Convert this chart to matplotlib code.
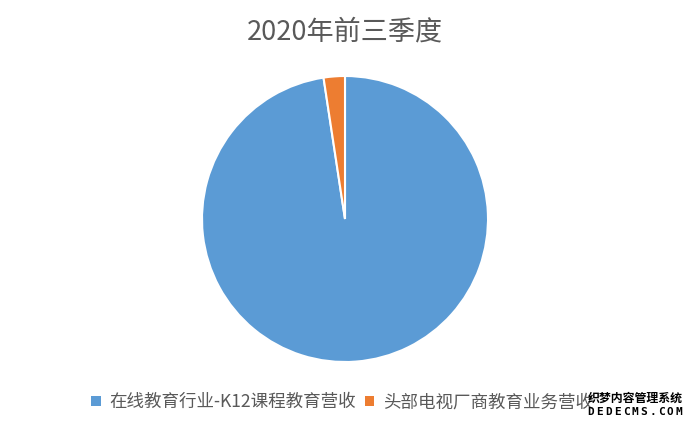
import matplotlib.pyplot as plt
from matplotlib.patches import Patch, Rectangle

plt.rcParams['font.family'] = ['Noto Sans CJK SC', 'DejaVu Sans']

title = '2020年前三季度'
labels = ['在线教育行业-K12课程教育营收', '头部电视厂商教育业务营收']
values = [97.6, 2.4]
colors = ['#5b9bd5', '#ed7d31']

W, H = 695, 426
fig = plt.figure(figsize=(W / 100, H / 100), dpi=100)
# pie centre ~ (345, 219) px, radius ~143 px
ax = fig.add_axes([(345 - 143) / W, (H - 362) / H, 286 / W, 286 / H])
ax.pie(values, colors=colors, startangle=90, counterclock=False,
       wedgeprops=dict(edgecolor='white', linewidth=1.5))
ax.set_xlim(-1, 1)
ax.set_ylim(-1, 1)
ax.set_aspect('equal')
ax.axis('off')

fig.text(0.497, 0.924, title, ha='center', va='center', fontsize=19.5, color='#595959')

handles = [Patch(facecolor=c, edgecolor='none') for c in colors]
fig.legend(handles, labels, loc='center', bbox_to_anchor=(0.492, 0.056), ncol=2,
           frameon=False, fontsize=12.6, labelcolor='#595959',
           handlelength=0.55, handleheight=0.55, handletextpad=0.5, columnspacing=0.5)

# watermark over the legend's right end
fig.patches.append(Rectangle((586 / W, 1 - 419 / H), 102 / W, 28 / H,
                             transform=fig.transFigure, facecolor='white',
                             edgecolor='none', zorder=5))
fig.text(635 / W, 1 - 398 / H, '织梦内容管理系统', ha='center', va='center', fontsize=8.6,
         fontweight='bold', color='black', zorder=6)
wm = 'DEDECMS.COM'
for i, ch in enumerate(wm):
    x = (591 + i * (88 / (len(wm) - 1))) / W
    fig.text(x, 1 - 412 / H, ch, ha='center', va='center', fontsize=8,
             fontweight='bold', color='black', family='DejaVu Sans Mono', zorder=6)

fig.savefig('out.png', dpi=100)
